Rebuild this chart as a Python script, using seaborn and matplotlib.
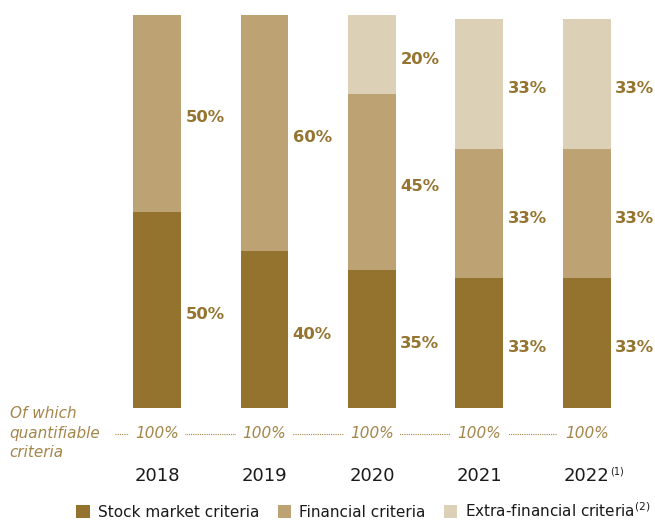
import matplotlib
matplotlib.use("Agg")
import matplotlib.pyplot as plt
import seaborn as sns
import pandas as pd
import numpy as np
from matplotlib.patches import Patch

# Weighting of performance criteria by plan year (%)
years = ["2018", "2019", "2020", "2021", "2022"]
stock_market = [50, 40, 35, 33, 33]
financial = [50, 60, 45, 33, 33]
extra_financial = [0, 0, 20, 33, 33]
quantifiable = ["100%", "100%", "100%", "100%", "100%"]
series_names = ["Stock market criteria", "Financial criteria", "Extra-financial criteria"]

c_dark = "#93732E"
c_mid = "#BDA373"
c_light = "#DCD0B7"
c_text = "#94742F"
c_soft = "#A4864A"

sns.set_theme(style="white")
plt.rcParams["font.family"] = ["DejaVu Sans"]

df = pd.DataFrame({
    "year": years,
    "stock": stock_market,
    "fin": financial,
    "extra": extra_financial,
})
df["lvl1"] = df["stock"]
df["lvl2"] = df["stock"] + df["fin"]
df["lvl3"] = df["lvl2"] + df["extra"]

fig = plt.figure(figsize=(6.55, 5.27), dpi=100)
ax = fig.add_axes([0, 0, 1, 1])

bw = 0.4465
# stacked by overdrawing cumulative totals, tallest first
for col, color in [("lvl3", c_light), ("lvl2", c_mid), ("lvl1", c_dark)]:
    sns.barplot(data=df, x="year", y=col, order=years, color=color,
                width=bw, saturation=1, ax=ax, linewidth=0)

ax.set_xlim(-1.4605, 4.6326)
ax.set_ylim(-30.28, 103.82)
ax.axis("off")

# value labels to the right of each segment
xoff = bw / 2 + 0.04
for i in range(len(years)):
    segs = [(0, stock_market[i]),
            (stock_market[i], financial[i]),
            (stock_market[i] + financial[i], extra_financial[i])]
    for base, val in segs:
        if val <= 0:
            continue
        ax.text(i + xoff, base + val / 2 - 1.2, f"{val}%", ha="left", va="center",
                fontsize=11.8, fontweight="bold", color=c_text)

# quantifiable criteria row
yq = -6.6
ax.plot([-0.39, 3.72], [yq, yq], linestyle=(0, (1, 1.0)), color=c_soft,
        linewidth=0.8, zorder=1)
for i, q in enumerate(quantifiable):
    ax.text(i, yq, q, ha="center", va="center", fontsize=11, style="italic",
            color=c_soft, zorder=2,
            bbox=dict(facecolor="white", edgecolor="none", pad=4.5))
ax.text(-1.37, yq + 0.2, "Of which\nquantifiable\ncriteria", ha="left", va="center",
        fontsize=11, style="italic", color=c_soft, linespacing=1.4)

# year labels
yy = -17.3
for i, y in enumerate(years):
    ax.text(i, yy, y, ha="center", va="center", fontsize=13, color="#1a1a1a")
ax.text(4 + 0.215, yy + 1.2, "(1)", ha="left", va="center", fontsize=7, color="#1a1a1a")

handles = [Patch(facecolor=c, edgecolor="none") for c in (c_dark, c_mid, c_light)]
labels = [series_names[0], series_names[1], series_names[2] + "$^{(2)}$"]
fig.legend(handles, labels, loc="lower center", bbox_to_anchor=(0.555, -0.012), ncol=3,
           frameon=False, fontsize=11, handlelength=0.9, handleheight=0.9,
           handletextpad=0.5, columnspacing=1.2, labelcolor="#1a1a1a")

fig.savefig("out.png", dpi=100)
